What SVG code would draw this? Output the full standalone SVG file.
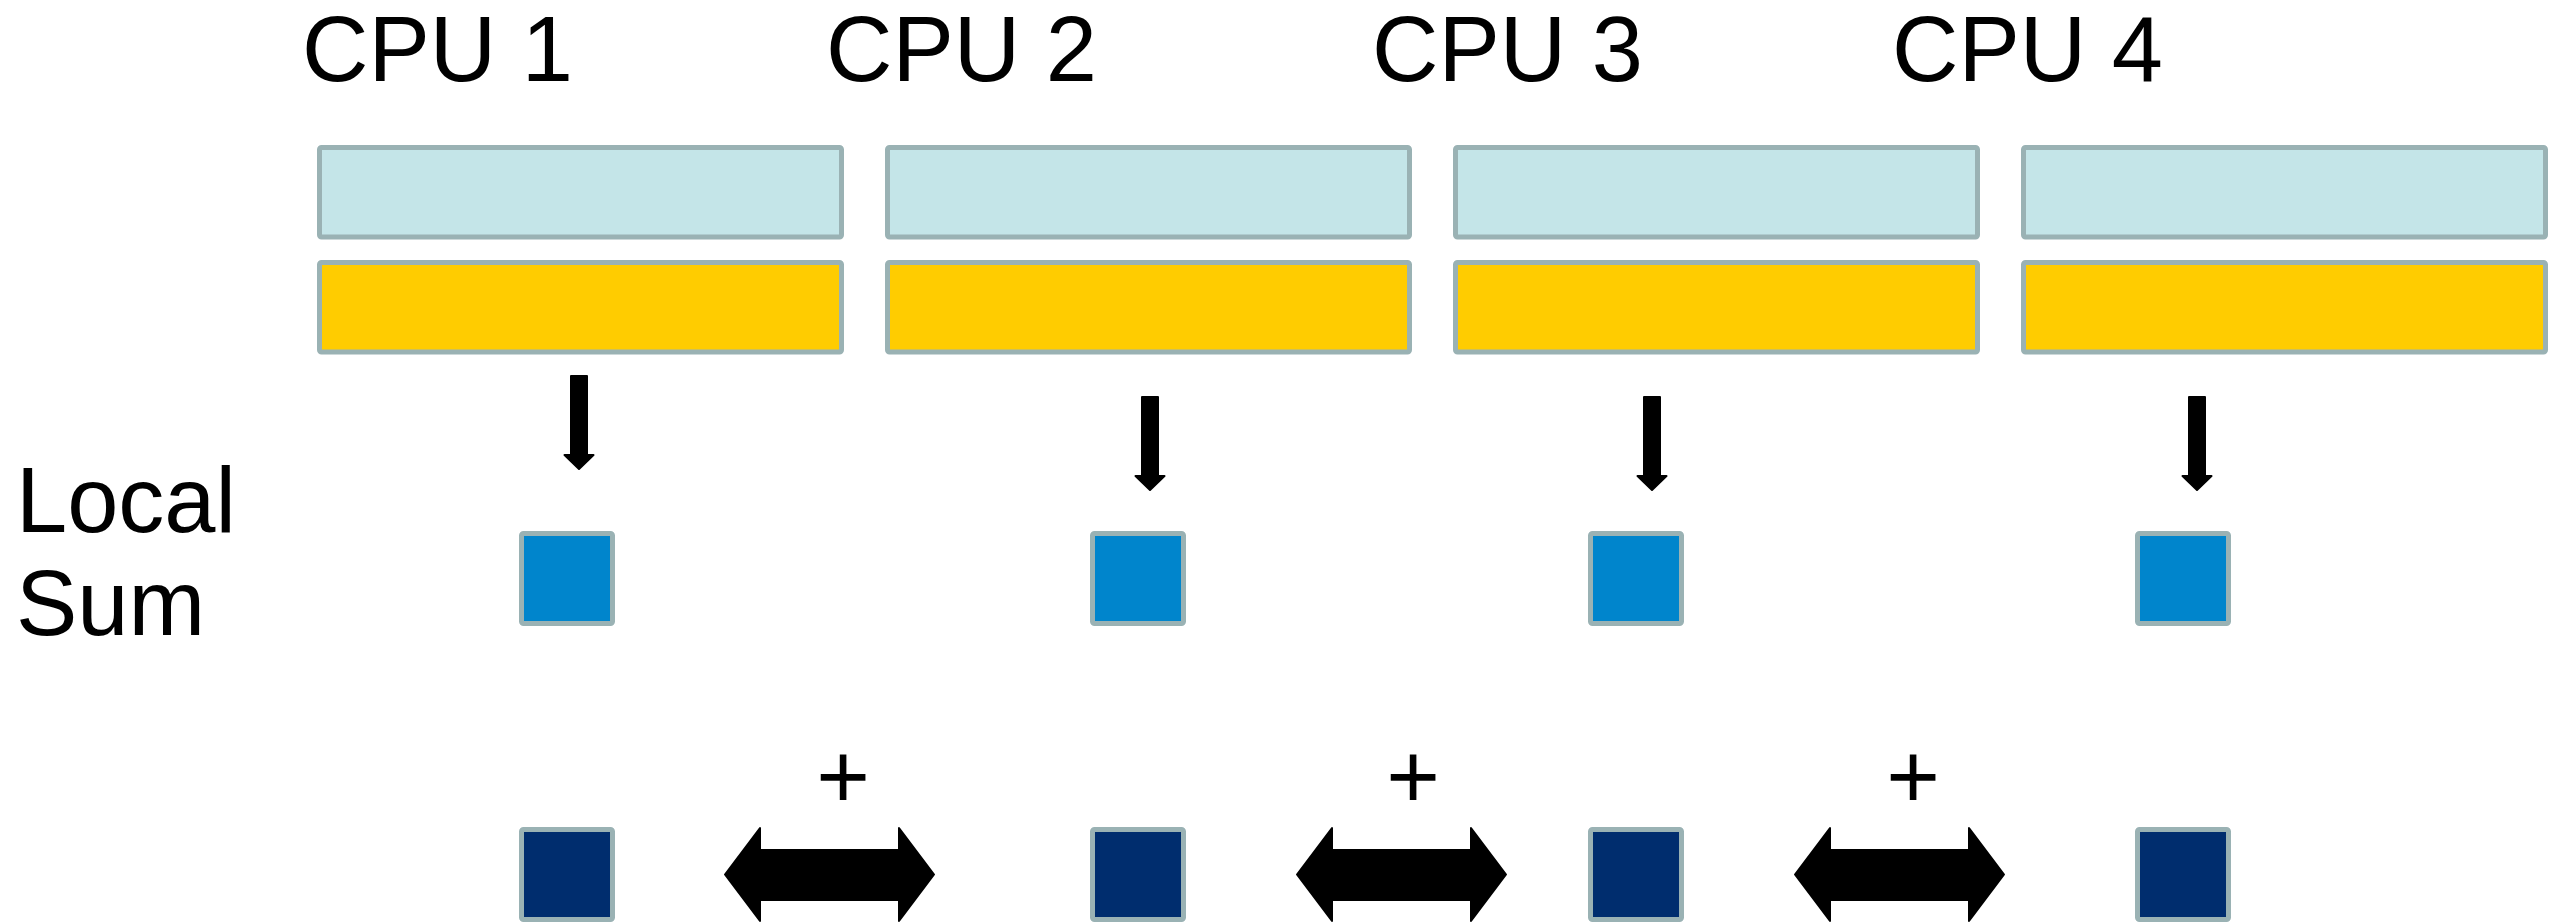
<svg xmlns="http://www.w3.org/2000/svg" width="2564" height="924" viewBox="0 0 2564 924">
<defs>
<style>
text{font-family:"Liberation Sans",Arial,sans-serif;font-size:92px;fill:#000}
.bar{stroke:#9AB2B4;stroke-width:5}
.data{fill:#C4E5E8}
.work{fill:#FFCC00}
.loc{fill:#0085CC}
.glob{fill:#002D6E}
.arr{fill:#000;stroke:#000;stroke-width:2;stroke-linejoin:round}
</style>
</defs>
<rect width="2564" height="924" fill="#fff"/>
<g id="labels">
<text x="302" y="81">CPU 1</text>
<text x="826" y="81">CPU 2</text>
<text x="1372" y="81">CPU 3</text>
<text x="1892" y="81">CPU 4</text>
<text x="16" y="532">Local</text>
<text x="16" y="635">Sum</text>
</g>
<g id="cpu1">
<rect class="bar data" x="319.5" y="147.5" width="522" height="89.5" rx="2"/>
<rect class="bar work" x="319.5" y="262.5" width="522" height="89.5" rx="2"/>
</g>
<g id="cpu2">
<rect class="bar data" x="887.5" y="147.5" width="522" height="89.5" rx="2"/>
<rect class="bar work" x="887.5" y="262.5" width="522" height="89.5" rx="2"/>
</g>
<g id="cpu3">
<rect class="bar data" x="1455.5" y="147.5" width="522" height="89.5" rx="2"/>
<rect class="bar work" x="1455.5" y="262.5" width="522" height="89.5" rx="2"/>
</g>
<g id="cpu4">
<rect class="bar data" x="2023.5" y="147.5" width="522" height="89.5" rx="2"/>
<rect class="bar work" x="2023.5" y="262.5" width="522" height="89.5" rx="2"/>
</g>
<g id="local1"><rect class="bar loc" x="521.5" y="533.5" width="91" height="90" rx="2"/></g>
<g id="local2"><rect class="bar loc" x="1092.5" y="533.5" width="91" height="90" rx="2"/></g>
<g id="local3"><rect class="bar loc" x="1590.5" y="533.5" width="91" height="90" rx="2"/></g>
<g id="local4"><rect class="bar loc" x="2137.5" y="533.5" width="91" height="90" rx="2"/></g>
<g id="global1"><rect class="bar glob" x="521.5" y="829.5" width="91" height="90" rx="2"/></g>
<g id="global2"><rect class="bar glob" x="1092.5" y="829.5" width="91" height="90" rx="2"/></g>
<g id="global3"><rect class="bar glob" x="1590.5" y="829.5" width="91" height="90" rx="2"/></g>
<g id="global4"><rect class="bar glob" x="2137.5" y="829.5" width="91" height="90" rx="2"/></g>
<g id="connectors">
<polygon class="arr" points="571,376 587,376 587,455 593.5,455 579,469 564.5,455 571,455"/>
<polygon class="arr" points="1142,397 1158,397 1158,476 1164.5,476 1150,490 1135.5,476 1142,476"/>
<polygon class="arr" points="1644,397 1660,397 1660,476 1666.5,476 1652,490 1637.5,476 1644,476"/>
<polygon class="arr" points="2189,397 2205,397 2205,476 2211.5,476 2197,490 2182.5,476 2189,476"/>
<polygon class="arr" points="725,874.5 760,828 760,850 899,850 899,828 934,874.5 899,921 899,900 760,900 760,921"/>
<polygon class="arr" points="1297,874.5 1332,828 1332,850 1471,850 1471,828 1506,874.5 1471,921 1471,900 1332,900 1332,921"/>
<polygon class="arr" points="1795,874.5 1830,828 1830,850 1969,850 1969,828 2004,874.5 1969,921 1969,900 1830,900 1830,921"/>
<text x="843" y="808" text-anchor="middle">+</text>
<text x="1413" y="808" text-anchor="middle">+</text>
<text x="1913" y="808" text-anchor="middle">+</text>
</g>
</svg>
